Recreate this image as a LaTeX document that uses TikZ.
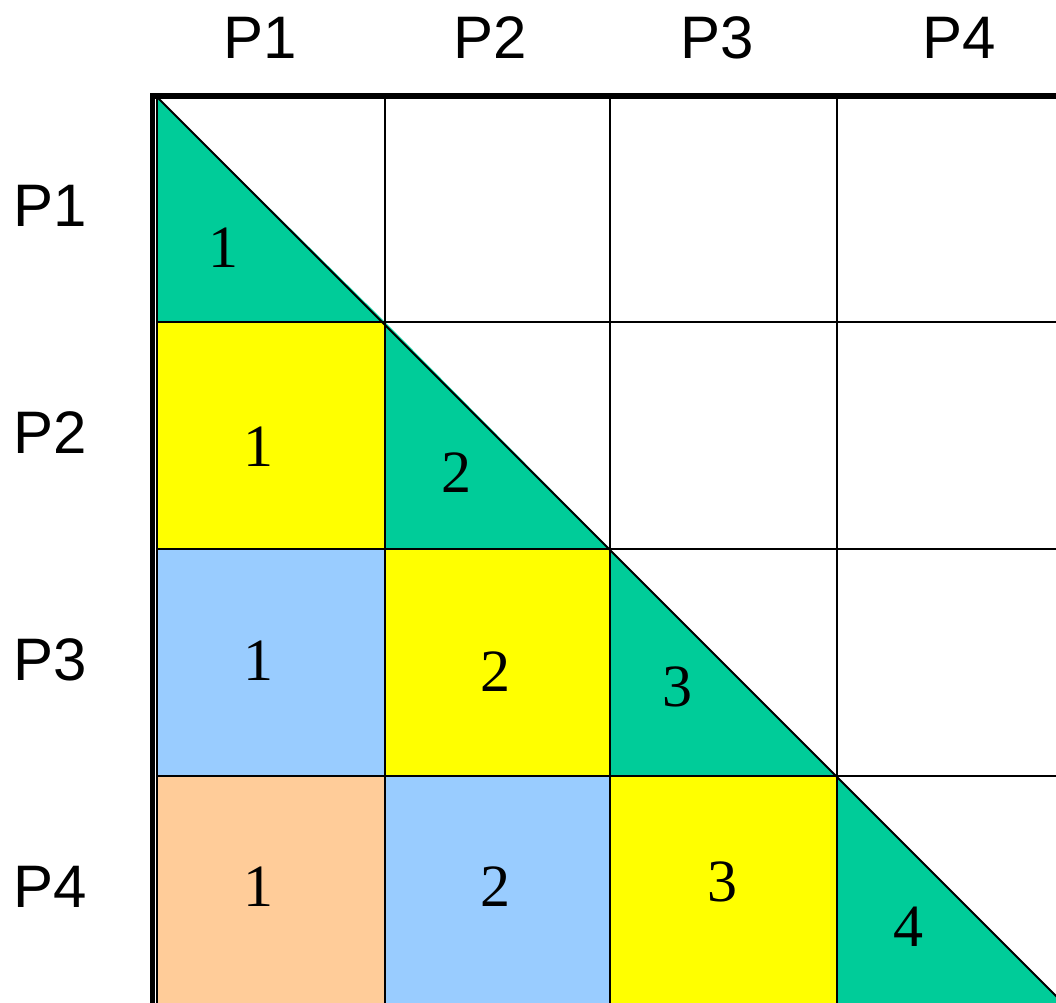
\documentclass[tikz,border=0pt]{standalone}
\usepackage{fontspec}
\setmainfont{Liberation Serif}
\newfontfamily\lblfont{Liberation Sans}
\definecolor{cgreen}{HTML}{00CC99}
\definecolor{cyellow}{HTML}{FFFF00}
\definecolor{cblue}{HTML}{99CCFF}
\definecolor{corange}{HTML}{FFCC99}
\begin{document}
\begin{tikzpicture}[x=1pt,y=-1pt,
  hdr/.style={font=\lblfont\fontsize{60}{60}\selectfont, inner sep=0pt},
  num/.style={font=\fontsize{60}{60}\selectfont, inner sep=0pt},
  thin grid/.style={line width=2pt, black},
  thick border/.style={line width=6pt, black}]
\useasboundingbox (0,0) rectangle (1056,1002);
\begin{scope}
\clip (0,0) rectangle (1056,1002);
% cells
\fill[cyellow] (157,322) rectangle (385,549);
\fill[cblue]   (157,549) rectangle (385,776);
\fill[corange] (157,776) rectangle (385,1010);
\fill[cyellow] (385,549) rectangle (610,776);
\fill[cblue]   (385,776) rectangle (610,1010);
\fill[cyellow] (610,776) rectangle (837,1010);
% diagonal triangles
\fill[cgreen] (157,97) -- (157,322) -- (385,322) -- cycle;
\fill[cgreen] (385,322) -- (385,549) -- (610,549) -- cycle;
\fill[cgreen] (610,549) -- (610,776) -- (837,776) -- cycle;
\fill[cgreen] (837,776) -- (837,1003) -- (1064,1003) -- cycle;
% grid
\draw[thin grid] (385,97) -- (385,1010);
\draw[thin grid] (610,97) -- (610,1010);
\draw[thin grid] (837,97) -- (837,1010);
\draw[thin grid] (157,322) -- (1060,322);
\draw[thin grid] (157,549) -- (1060,549);
\draw[thin grid] (157,776) -- (1060,776);
\draw[thin grid] (157,97) -- (157,1010);
\draw[thin grid] (157,97) -- (1064,1004);
% borders
\draw[thick border] (150,96) -- (1060,96);
\draw[line width=5pt] (152.5,93) -- (152.5,1010);
\end{scope}
% headers
\node[hdr] (c1) at (260,38) {P1};
\node[hdr] (c2) at (490,38) {P2};
\node[hdr] (c3) at (717,38) {P3};
\node[hdr] (c4) at (959,38) {P4};
\node[hdr] (r1) at (50,206) {P1};
\node[hdr] (r2) at (50,433) {P2};
\node[hdr] (r3) at (50,660) {P3};
\node[hdr] (r4) at (50,887) {P4};
% numbers
\node[num] (t1) at (223,248) {1};
\node[num] (t2) at (456,473) {2};
\node[num] (t3) at (677,687) {3};
\node[num] (t4) at (908,927) {4};
\node[num] (y1) at (258,447) {1};
\node[num] (b1) at (258,661) {1};
\node[num] (y2) at (495,672) {2};
\node[num] (o1) at (258,887) {1};
\node[num] (b2) at (495,887) {2};
\node[num] (y3) at (722,882) {3};
\end{tikzpicture}
\end{document}
